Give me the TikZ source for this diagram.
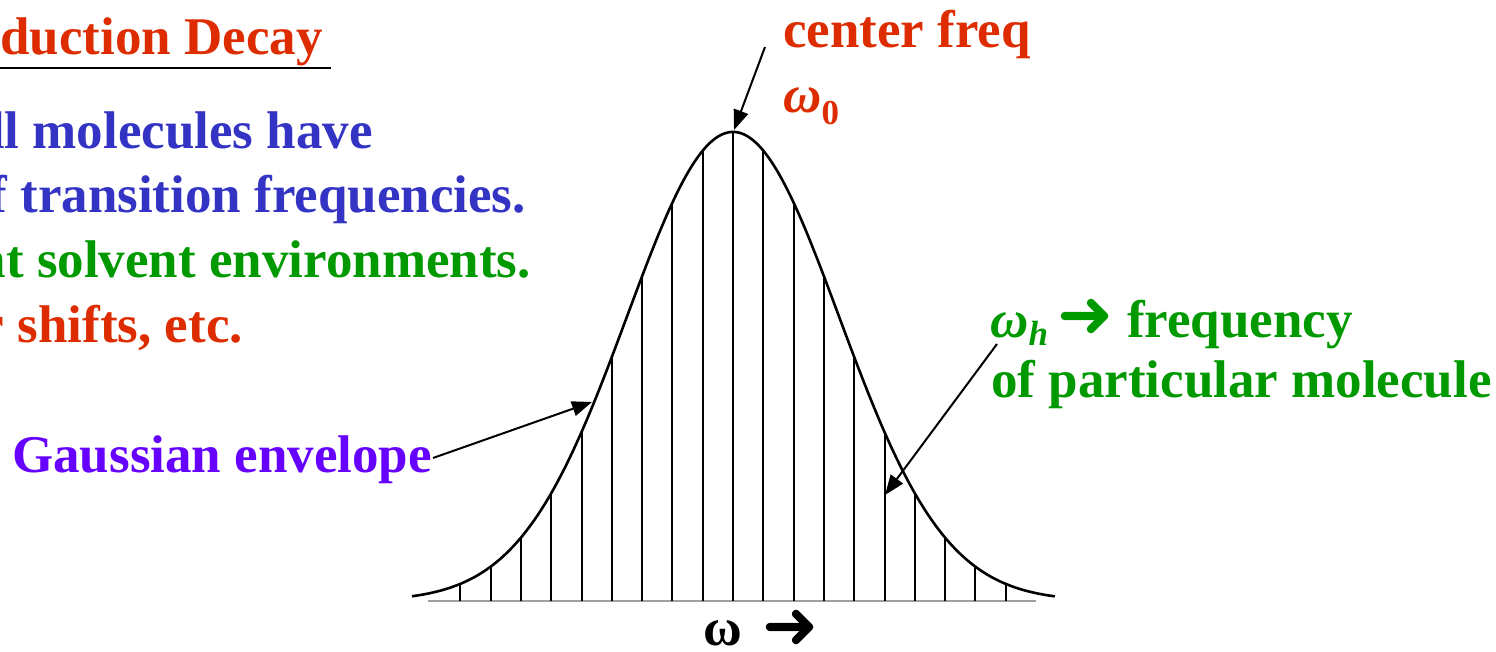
\documentclass[tikz,border=0pt]{standalone}
\usepackage{fontspec}
\setmainfont{Liberation Serif}
\newfontfamily\symfont{DejaVu Sans}
\usetikzlibrary{arrows.meta}
\definecolor{tred}{RGB}{221,45,0}
\definecolor{tblue}{RGB}{51,51,196}
\definecolor{tgreen}{RGB}{0,153,0}
\definecolor{tpurple}{RGB}{102,0,255}
\definecolor{axisgray}{RGB}{160,160,160}
\begin{document}
\begin{tikzpicture}[x=1pt,y=-1pt,
  txt/.style={font=\fontsize{53}{62}\selectfont\bfseries, inner sep=0pt},
  sym/.style={font=\fontsize{67}{72}\selectfont\symfont\bfseries, inner sep=0pt},
  ptr/.style={line width=2pt, -{Triangle[length=20pt,width=15pt]}},
  curve/.style={line width=2.6pt, black},
  stem/.style={line width=2pt, black},
  baseaxis/.style={line width=2.6pt, axisgray}]
\useasboundingbox (0,0) rectangle (1496,652);
\begin{scope}
\clip (0,0) rectangle (1496,652);
% left text block
\node[txt, tred, anchor=base east] (title) at (323,55) {duction Decay};
\draw[line width=2.5pt] (0,68) -- (331,68);
\node[txt, tblue, anchor=base east] (l1) at (373,149) {ll molecules have};
\node[txt, tblue, anchor=base east] (l2) at (526,213) {f transition frequencies.};
\node[txt, tgreen, anchor=base east] (l3) at (531,278) {nt solvent environments.};
\node[txt, tred, anchor=base east] (l4) at (243,342) {r shifts, etc.};
\end{scope}
% axis and stems
\draw[baseaxis] (428,601) -- (1036,601);
\foreach \k in {-9,...,9} {
  \pgfmathsetmacro\uu{0.303*\k}
  \draw[stem] ({733+100*\uu},601) -- ({733+100*\uu},{601-469*exp(-\uu*\uu/2.2472)});
}
\draw[curve] plot[domain=-3.21:3.22, samples=200, smooth] ({733+100*\x}, {601-469*exp(-\x*\x/2.2472)});
% labels
\node[txt, tred, anchor=base west] (cf) at (783,48) {center freq};
\node[txt, tred, anchor=base west] (w0) at (783,113) {\itshape ω\raisebox{-12pt}{\fontsize{35}{35}\selectfont\upshape 0}};
\node[txt, tpurple, anchor=base west] (gauss) at (12,472) {Gaussian envelope};
\node[txt, tgreen, anchor=base west] (wh) at (990,337) {\itshape ω\raisebox{-9pt}{\fontsize{35}{35}\selectfont h}};
\node[sym, tgreen, anchor=base west] (whar) at (1057,337) {➜};
\node[txt, tgreen, anchor=base west] (wh1) at (1127,337) {frequency};
\node[txt, tgreen, anchor=base west] (wh2) at (991,397) {of particular molecule};
\node[txt, black, anchor=base west] (wx) at (703,645) {ω};
\node[sym, black, anchor=base west] (wxar) at (762,648) {➜};
% pointers
\coordinate (peak) at (734,130);
\coordinate (cfs) at (765,47);
\draw[ptr] (cfs) -- (peak);
\coordinate (gstart) at (433,458);
\coordinate (gtip) at (592,402);
\draw[ptr] (gstart) -- (gtip);
\coordinate (hs) at (997,344);
\coordinate (htip) at (885,495);
\draw[ptr] (hs) -- (htip);
\end{tikzpicture}
\end{document}
